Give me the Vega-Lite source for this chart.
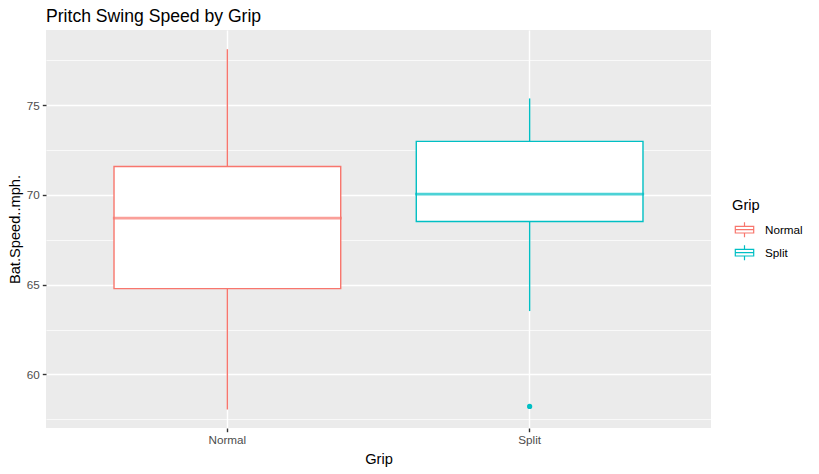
{
  "$schema": "https://vega.github.io/schema/vega-lite/v6.json",
  "width": 665,
  "height": 398,
  "autosize": {"type": "none"},
  "padding": {"left": 46, "top": 30, "right": 108, "bottom": 46},
  "background": "white",
  "title": {
    "text": "Pritch Swing Speed by Grip",
    "anchor": "start",
    "frame": "group",
    "font": "Liberation Sans",
    "fontSize": 17.6,
    "fontWeight": "normal",
    "color": "black",
    "offset": 4
  },
  "config": {
    "view": {"fill": "#EBEBEB", "stroke": null},
    "font": "Liberation Sans",
    "axis": {
      "domain": false,
      "gridColor": "white",
      "tickColor": "#333333",
      "tickWidth": 1.4,
      "tickSize": 3.7,
      "labelColor": "#4D4D4D",
      "labelFontSize": 11.7,
      "labelFont": "Liberation Sans",
      "titleFont": "Liberation Sans",
      "titleFontSize": 14.67,
      "titleFontWeight": "normal",
      "titleColor": "black"
    }
  },
  "datasets": {
    "boxes": [
      {"Grip": "Normal", "lower": 58.05, "q1": 64.78, "median": 68.7, "q3": 71.58, "upper": 78.11},
      {"Grip": "Split", "lower": 63.53, "q1": 68.52, "median": 70.04, "q3": 72.98, "upper": 75.37}
    ],
    "outliers": [
      {"Grip": "Split", "value": 58.22}
    ]
  },
  "encoding": {
    "x": {
      "field": "Grip",
      "type": "nominal",
      "scale": {"type": "band", "paddingInner": 0.25, "paddingOuter": 0.225},
      "axis": {
        "title": "Grip",
        "labelAngle": 0,
        "bandPosition": 0.5,
        "grid": true,
        "gridWidth": 1.4,
        "labelPadding": 3,
        "titlePadding": 5
      }
    },
    "color": {
      "field": "Grip",
      "type": "nominal",
      "scale": {"domain": ["Normal", "Split"], "range": ["#F8766D", "#00BFC4"]},
      "legend": {
        "title": "Grip",
        "orient": "none",
        "legendX": 686,
        "legendY": 168,
        "titleFontSize": 14.67,
        "titleFontWeight": "normal",
        "titleColor": "black",
        "titleFont": "Liberation Sans",
        "titlePadding": 4.5,
        "labelFontSize": 11.7,
        "labelColor": "black",
        "labelFont": "Liberation Sans",
        "labelOffset": 8,
        "symbolType": "M-0.8,-0.29H0.8V0.29H-0.8Z M-0.8,0H0.8 M0,-0.65V-0.29 M0,0.29V0.65",
        "symbolSize": 529,
        "symbolStrokeWidth": 1.2,
        "symbolFillColor": "white",
        "rowPadding": 0
      }
    }
  },
  "layer": [
    {
      "data": {"name": "boxes"},
      "mark": {"type": "rule", "strokeWidth": 1.4},
      "encoding": {
        "y": {
          "field": "lower",
          "type": "quantitative",
          "scale": {"domain": [57.02, 79.18], "nice": false, "zero": false},
          "axis": {
            "title": "Bat.Speed..mph.",
            "values": [57.5, 60, 62.5, 65, 67.5, 70, 72.5, 75, 77.5],
            "labelExpr": "datum.value % 5 === 0 ? datum.label : ''",
            "grid": true,
            "gridWidth": {"condition": {"test": "datum.value % 5 !== 0", "value": 0.7}, "value": 1.4},
            "tickOpacity": {"condition": {"test": "datum.value % 5 !== 0", "value": 0}, "value": 1},
            "labelPadding": 3,
            "titlePadding": 4
          }
        },
        "y2": {"field": "q1"}
      }
    },
    {
      "data": {"name": "boxes"},
      "mark": {"type": "rule", "strokeWidth": 1.4},
      "encoding": {
        "y": {"field": "q3", "type": "quantitative"},
        "y2": {"field": "upper"}
      }
    },
    {
      "data": {"name": "boxes"},
      "mark": {"type": "bar", "filled": false, "fill": "white", "strokeWidth": 1.4},
      "encoding": {
        "y": {"field": "q1", "type": "quantitative"},
        "y2": {"field": "q3"}
      }
    },
    {
      "data": {"name": "boxes"},
      "mark": {"type": "tick", "filled": false, "thickness": 0.4, "strokeWidth": 2.3, "orient": "horizontal"},
      "encoding": {
        "y": {"field": "median", "type": "quantitative"}
      }
    },
    {
      "data": {"name": "outliers"},
      "mark": {"type": "point", "filled": false, "size": 6, "strokeWidth": 2.8, "opacity": 1},
      "encoding": {
        "y": {"field": "value", "type": "quantitative"}
      }
    }
  ]
}
